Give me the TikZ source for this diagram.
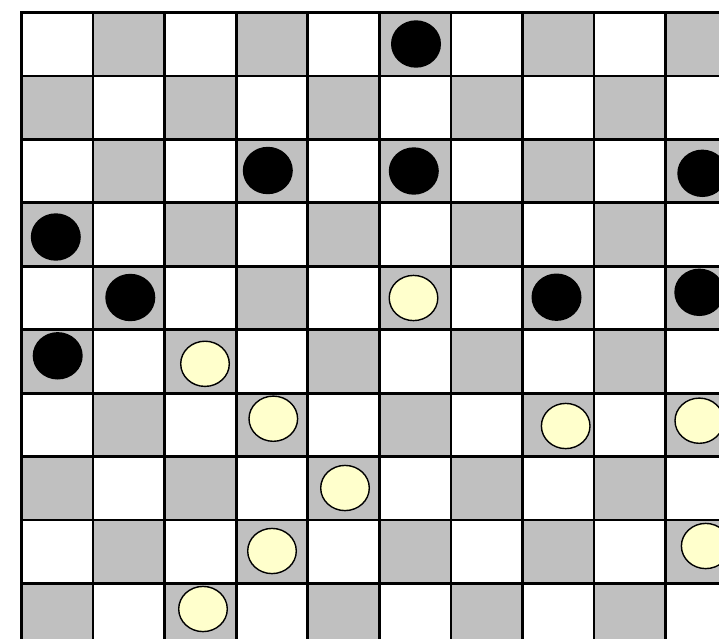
\documentclass[tikz,border=0pt]{standalone}
\definecolor{sq}{HTML}{C0C0C0}
\definecolor{cream}{HTML}{FFFFCC}
\begin{document}
\begin{tikzpicture}[x=1pt,y=-1pt,
  gridline/.style={line width=2.7pt,line cap=rect,draw=black},
  darksq/.style={fill=sq},
  blackpc/.style={fill=black},
  creampc/.style={fill=cream,draw=black,line width=1.4pt}]
\useasboundingbox (0,0) rectangle (719,638);
\fill[white] (0,0) rectangle (719,638);
\begin{scope}
\clip (0,0) rectangle (719,638);
\foreach \r in {0,...,9}{
  \foreach \c in {0,...,9}{
    \ifodd\numexpr\r+\c\relax
      \fill[darksq] ({21.5+\c*71.56},{12.5+\r*63.44}) rectangle ({21.5+(\c+1)*71.56},{12.5+(\r+1)*63.44});
    \fi
  }
}
\foreach \i in {0,...,10}{
  \draw[gridline] ({21.5+\i*71.56},12.5) -- ({21.5+\i*71.56},660);
  \draw[gridline] (21.5,{12.5+\i*63.44}) -- (740,{12.5+\i*63.44});
}
\foreach \px/\py in {416/44, 267.8/170.5, 413.8/171, 702.3/173.3, 55.8/237, 130.3/297.5, 556.5/297.2, 699.3/292.3, 57.7/355.8}{
  \fill[blackpc] (\px,\py) ellipse [x radius=25, y radius=23.7];
}
\foreach \px/\py in {413.5/298, 205/363.8, 273.3/418.7, 565.7/426, 699.3/420.7, 345/488, 272/551, 705.7/546, 203/609}{
  \draw[creampc] (\px,\py) ellipse [x radius=24.3, y radius=22.6];
}
\end{scope}
\end{tikzpicture}
\end{document}
